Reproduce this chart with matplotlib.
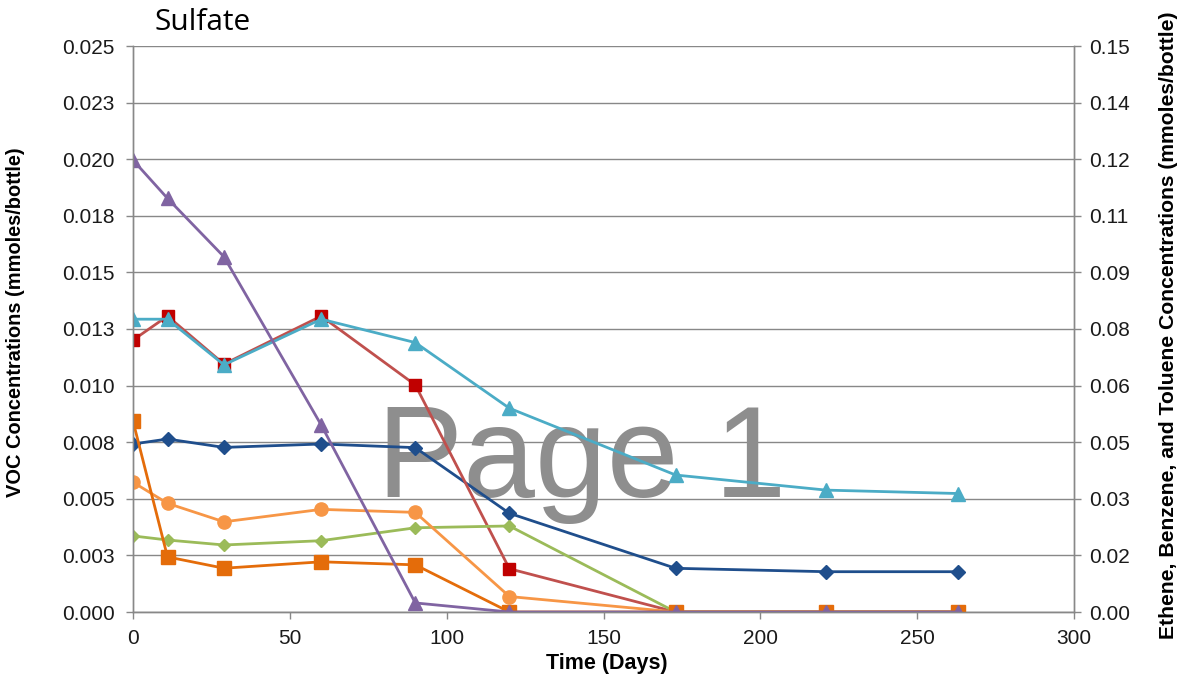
import matplotlib
matplotlib.use("Agg")
import matplotlib.pyplot as plt

# Sampling days
days = [0, 11, 29, 60, 90, 120, 173, 221, 263]

# VOC concentrations, mmoles/bottle (left axis)
voc_blue = [0.00742, 0.00764, 0.00727, 0.00742, 0.00726, 0.00436, 0.00193, 0.00178, 0.00178]
voc_red = [0.01201, 0.01307, 0.01095, 0.01307, 0.01003, 0.00191, 0.0, 0.0, 0.0]
voc_green = [0.00336, 0.00318, 0.00296, 0.00315, 0.00372, 0.00380, 0.0, 0.0, 0.0]
voc_purple = [0.01996, 0.01827, 0.01569, 0.00826, 0.00040, 0.0, 0.0, 0.0, 0.0]

# Ethene, benzene and toluene concentrations, mmoles/bottle (right axis)
ebt_cyan = [0.0776, 0.0776, 0.0655, 0.0776, 0.0714, 0.0540, 0.0363, 0.0323, 0.0314]
ebt_lightorange = [0.0344, 0.0288, 0.0239, 0.0272, 0.0264, 0.0041, 0.0, 0.0, 0.0]
ebt_darkorange = [0.0506, 0.0146, 0.0116, 0.0133, 0.0125, 0.0, 0.0, 0.0, 0.0]

left_ticks = [0.0, 0.0025, 0.005, 0.0075, 0.01, 0.0125, 0.015, 0.0175, 0.02, 0.0225, 0.025]
left_labels = ["0.000", "0.003", "0.005", "0.008", "0.010", "0.013", "0.015",
               "0.018", "0.020", "0.023", "0.025"]
right_ticks = [0.0, 0.015, 0.03, 0.045, 0.06, 0.075, 0.09, 0.105, 0.12, 0.135, 0.15]
right_labels = ["0.00", "0.02", "0.03", "0.05", "0.06", "0.08", "0.09",
                "0.11", "0.12", "0.14", "0.15"]
x_ticks = [0, 50, 100, 150, 200, 250, 300]

plt.rcParams["font.family"] = ["Liberation Sans", "DejaVu Sans"]

W, H = 1181, 681
fig = plt.figure(figsize=(W / 100, H / 100), dpi=100)
ax = fig.add_axes([133 / W, 1 - 612 / H, 941 / W, 566 / H])
ax2 = ax.twinx()

gray = "#888888"
ax.set_xlim(0, 300)
ax.set_ylim(0, 0.025)
ax2.set_ylim(0, 0.15)

ax.set_yticks(left_ticks)
ax.set_yticklabels(left_labels)
ax2.set_yticks(right_ticks)
ax2.set_yticklabels(right_labels)
ax.set_xticks(x_ticks)

for a in (ax, ax2):
    for s in a.spines.values():
        s.set_color(gray)
        s.set_linewidth(1.0)
    a.spines["top"].set_visible(False)
    a.tick_params(colors=gray, labelcolor="#1a1a1a", labelsize=15,
                  length=5, width=1.0, direction="out")
ax.tick_params(axis="y", pad=8)
ax.tick_params(axis="x", pad=7)
ax2.tick_params(axis="y", pad=6)
ax.grid(axis="y", color=gray, linewidth=1.0)
ax.set_axisbelow(True)

# Watermark
ax.text(0.477, 0.263, "Page 1", transform=ax.transAxes, fontsize=93,
        color="#8e8e8e", ha="center", va="center", zorder=1)

lw = 2.0
ax.plot(days, voc_blue, color="#1F4E8C", marker="D", markersize=7, lw=lw, zorder=3)
ax.plot(days, voc_red, color="#C0504D", marker="s", markersize=8.5,
        markerfacecolor="#C00000", markeredgecolor="#C00000", lw=lw, zorder=3)
ax.plot(days, voc_green, color="#9BBB59", marker="D", markersize=6.5, lw=lw, zorder=3)
ax.plot(days, ebt_cyan, color="#4BACC6", marker="^", markersize=10, lw=lw,
        transform=ax2.transData, zorder=3)
ax.plot(days, ebt_lightorange, color="#F79646", marker="o", markersize=9.5, lw=lw,
        transform=ax2.transData, zorder=3)
ax.plot(days, ebt_darkorange, color="#E46C0A", marker="s", markersize=9.5, lw=lw,
        transform=ax2.transData, zorder=3)
ax.plot(days, voc_purple, color="#8064A2", marker="^", markersize=10, lw=lw, zorder=3)

# Axis titles
fig.text(607 / W, 1 - 664 / H, "Time (Days)", fontsize=15.5, fontweight="bold",
         ha="center", va="center")
fig.text(16 / W, 1 - 322 / H, "VOC Concentrations (mmoles/bottle)", fontsize=14.4,
         fontweight="bold", rotation=90, ha="center", va="center")
fig.text(1168 / W, 1 - 325 / H,
         "Ethene, Benzene, and Toluene Concentrations (mmoles/bottle)",
         fontsize=15.2, fontweight="bold", rotation=90, ha="center", va="center")

fig.text(155 / W, 1 - 30 / H, "Sulfate", fontsize=21.5, ha="left", va="baseline",
         family=["Open Sans", "DejaVu Sans"])

fig.savefig("out.png", dpi=100)
